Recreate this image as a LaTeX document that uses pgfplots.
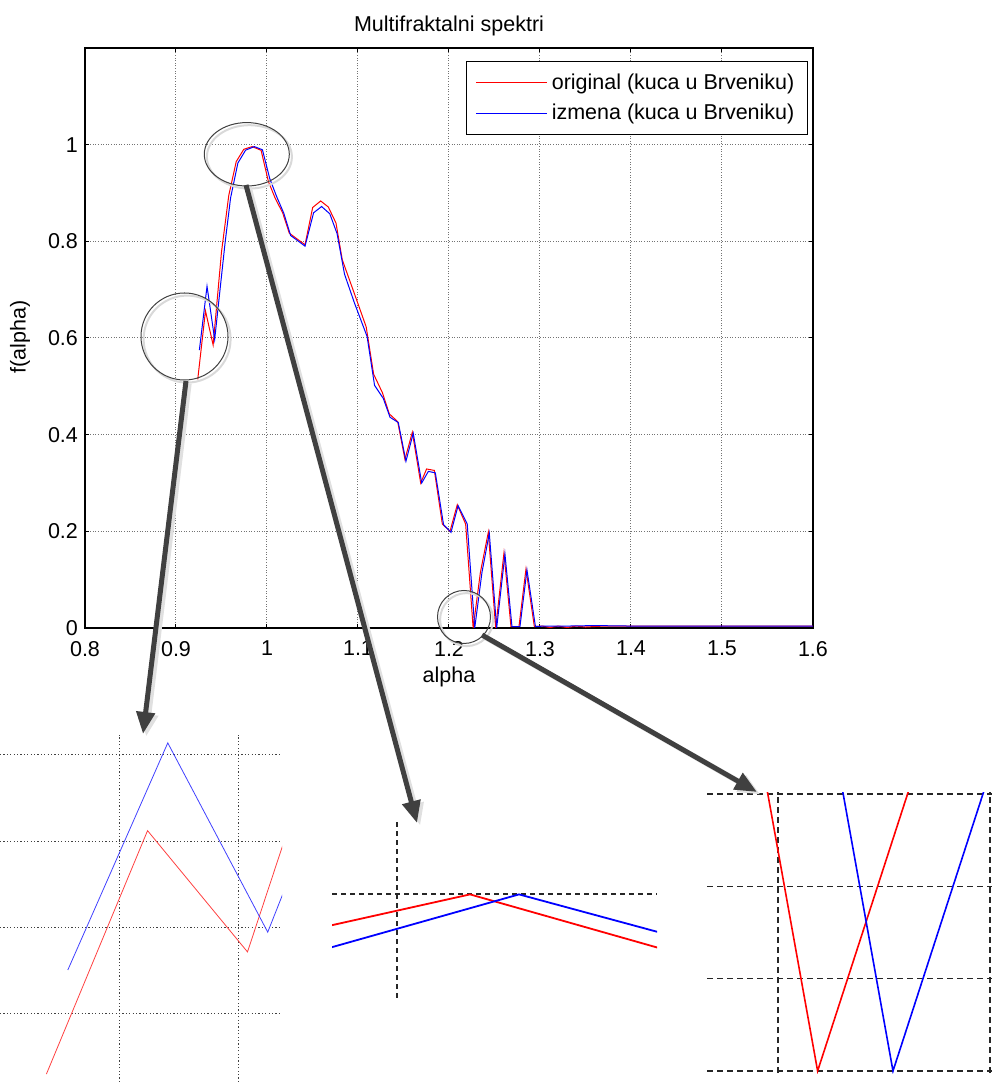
\documentclass[border=0pt]{standalone}
\usepackage{fontspec}
\setmainfont{Liberation Sans}
\usepackage{pgfplots}
\pgfplotsset{compat=1.18}
\usepackage{pgfplotstable}
\usetikzlibrary{arrows.meta}
\newcommand\ff{\fontsize{10.75}{13}\selectfont}

\pgfplotstableread{
a f
0.9239 0.5145
0.9324 0.6560
0.9408 0.5855
0.9500 0.7780
0.9580 0.8950
0.9662 0.9650
0.9745 0.99041
0.98365 0.9960
0.9935 0.98834
1.0015 0.9240
1.0088 0.8900
1.0172 0.8590
1.0245 0.8170
1.0330 0.8050
1.0418 0.7930
1.0502 0.8700
1.0590 0.8835
1.0674 0.8710
1.0758 0.8380
1.0827 0.7620
1.0960 0.6920
1.1090 0.6230
1.1172 0.5250
1.1268 0.4870
1.1344 0.4430
1.1436 0.4270
1.1516 0.3490
1.1597 0.4050
1.1689 0.3000
1.1754 0.3290
1.1839 0.3260
1.1927 0.2150
1.2011 0.2000
1.2091 0.2550
1.2183 0.2150
1.22654 0.0000
1.2345 0.1150
1.2432 0.1980
1.2513 0.0000
1.2604 0.1550
1.2681 0.0030
1.2769 0.0030
1.2846 0.1220
1.2938 0.0030
1.3025 0.0040
1.3110 0.0010
1.3200 0.0040
1.3300 0.0010
1.3400 0.0040
1.3500 0.0020
1.3700 0.0040
1.4000 0.0040
1.4500 0.0040
1.5000 0.0040
1.5500 0.0040
1.6000 0.0040
}\redtab

\pgfplotstableread{
a f
0.9257 0.5750
0.9341 0.7070
0.9425 0.5970
0.9540 0.7980
0.9600 0.8900
0.9680 0.9620
0.9765 0.98858
0.9861 0.9960
0.9950 0.9894
1.0030 0.9300
1.0105 0.8930
1.0185 0.8580
1.0260 0.8120
1.0340 0.8010
1.0418 0.7900
1.0512 0.8590
1.0600 0.8720
1.0690 0.8570
1.0770 0.8160
1.0852 0.7320
1.0960 0.6730
1.1100 0.6030
1.1182 0.5020
1.1278 0.4750
1.1352 0.4360
1.1443 0.4250
1.1527 0.3450
1.1607 0.4030
1.1700 0.3000
1.1773 0.3240
1.1850 0.3210
1.1940 0.2140
1.2022 0.1980
1.2100 0.2530
1.22004 0.2150
1.22828 0.0000
1.23624 0.1150
1.2443 0.1960
1.2524 0.0000
1.2615 0.1530
1.2692 0.0030
1.2780 0.0030
1.2857 0.1200
1.2950 0.0030
1.3050 0.0040
1.3300 0.0040
1.3600 0.0050
1.4000 0.0040
1.4500 0.0040
1.5000 0.0040
1.5500 0.0040
1.6000 0.0040
}\bluetab

\pgfplotsset{
  inset/.style={
    scale only axis, anchor=south west,
    scaled x ticks=false, scaled y ticks=false,
    xticklabels={}, yticklabels={},
    axis line style={draw=none},
    tick style={draw=none},
    major tick length=0pt,
    grid=major,
    clip=true,
  }
}

\begin{document}
\begin{tikzpicture}[x=1pt,y=1pt]
\useasboundingbox (0,0) rectangle (498,543);

% ---------------- main axis ----------------
\begin{axis}[
  at={(42.5pt,229pt)}, anchor=south west,
  scale only axis, width=364pt, height=290pt,
  xmin=0.8, xmax=1.6, ymin=0, ymax=1.2,
  xtick={0.8,0.9,1,1.1,1.2,1.3,1.4,1.5,1.6},
  ytick={0,0.2,0.4,0.6,0.8,1},
  tick align=inside, tick pos=both,
  major tick length=2pt,
  tick style={black, line width=0.5pt},
  axis line style={black, line width=0.7pt},
  grid=major,
  major grid style={line width=0.5pt, black!55, dash pattern=on 0.5pt off 0.8pt},
  /pgf/number format/assume math mode=true,
  every tick label/.append style={font=\ff},
  xticklabel style={yshift=-3pt},
  title={Multifraktalni spektri},
  title style={font=\ff, at={(axis description cs:0.5,1.0397)}, anchor=center, yshift=-6.5pt},
  xlabel={alpha},
  xlabel style={font=\ff, at={(axis description cs:0.5,-0.0845)}, anchor=center},
  ylabel={f(alpha)},
  ylabel style={font=\ff, at={(axis description cs:-0.0893,0.502)}, anchor=center},
  legend style={at={(axis description cs:0.993,0.9776)}, anchor=north east,
    draw=black, line width=0.5pt, font=\ff, inner xsep=4.5pt, inner ysep=4pt,
    row sep=2pt, cells={anchor=west}},
  legend image code/.code={\draw[#1, line width=0.5pt] (0pt,0pt) -- (35.5pt,0pt);},
]
\addplot[red, line width=0.5pt] table[x=a,y=f]{\redtab};
\addlegendentry{original (kuca u Brveniku)}
\addplot[blue, line width=0.5pt] table[x=a,y=f]{\bluetab};
\addlegendentry{izmena (kuca u Brveniku)}
\end{axis}

% ---------------- inset 1 (left) ----------------
\begin{axis}[inset,
  at={(0pt,2pt)}, width=141pt, height=173.5pt,
  xmin=0.92, xmax=0.9437, ymin=0.5099, ymax=0.7116,
  xtick={0.93,0.94}, ytick={0.55,0.6,0.65,0.7},
  major grid style={line width=0.45pt, black!75, dash pattern=on 0.6pt off 1.1pt},
]
\addplot[red!75, line width=0.4pt] table[x=a,y=f]{\redtab};
\addplot[blue!75, line width=0.4pt] table[x=a,y=f]{\bluetab};
\end{axis}

% ---------------- inset 2 (middle) ----------------
\begin{axis}[inset,
  at={(166pt,44pt)}, width=162.5pt, height=88pt,
  xmin=0.97675, xmax=0.993, ymin=0.98182, ymax=1.00593,
  xtick={0.98}, ytick={0.996},
  major grid style={line width=0.9pt, black!85, dash pattern=on 2.5pt off 2pt},
]
\addplot[red, line width=0.9pt] table[x=a,y=f]{\redtab};
\addplot[blue, line width=0.9pt] table[x=a,y=f]{\bluetab};
\end{axis}

% ---------------- inset 3 (right) ----------------
\begin{axis}[inset,
  at={(353.5pt,6.5pt)}, width=142.5pt, height=140.5pt,
  xmin=1.22399, xmax=1.23057, ymin=-0.000217, ymax=0.030217,
  xtick={1.22563,1.23052}, ytick={0,0.01,0.02,0.03},
  major grid style={line width=0.8pt, black!85, dash pattern=on 3pt off 2pt},
]
\addplot[red, line width=0.8pt] table[x=a,y=f]{\redtab};
\addplot[blue, line width=0.8pt] table[x=a,y=f]{\bluetab};
\end{axis}

% ---------------- annotation circles ----------------
\begin{scope}[shift={(1.3pt,-1.3pt)}]
\draw[black!15, line width=1pt] (92.25,374.75) circle (21.75);
\draw[black!15, line width=1pt] (123.4,465.85) ellipse (21.25 and 15.85);
\draw[black!15, line width=1pt] (232,234.5) circle (13.25);
\end{scope}
\draw[black!75, line width=0.5pt] (92.25,374.75) circle (21.75);
\draw[black!75, line width=0.5pt] (123.4,465.85) ellipse (21.25 and 15.85);
\draw[black!75, line width=0.5pt] (232,234.5) circle (13.25);

% ---------------- arrows ----------------
\tikzset{arr/.style={line width=2.5pt, -{Triangle[length=11pt,width=9pt]}}}
\begin{scope}[shift={(1.6pt,-1.2pt)}]
\draw[arr, black!12] (93,352.5) -- (71.5,176);
\draw[arr, black!12] (123,450.5) -- (208.5,131.5);
\draw[arr, black!12] (241,225.5) -- (378.5,147);
\end{scope}
\draw[arr, black!75] (93,352.5) -- (71.5,176);
\draw[arr, black!75] (123,450.5) -- (208.5,131.5);
\draw[arr, black!75] (241,225.5) -- (378.5,147);

\end{tikzpicture}
\end{document}
